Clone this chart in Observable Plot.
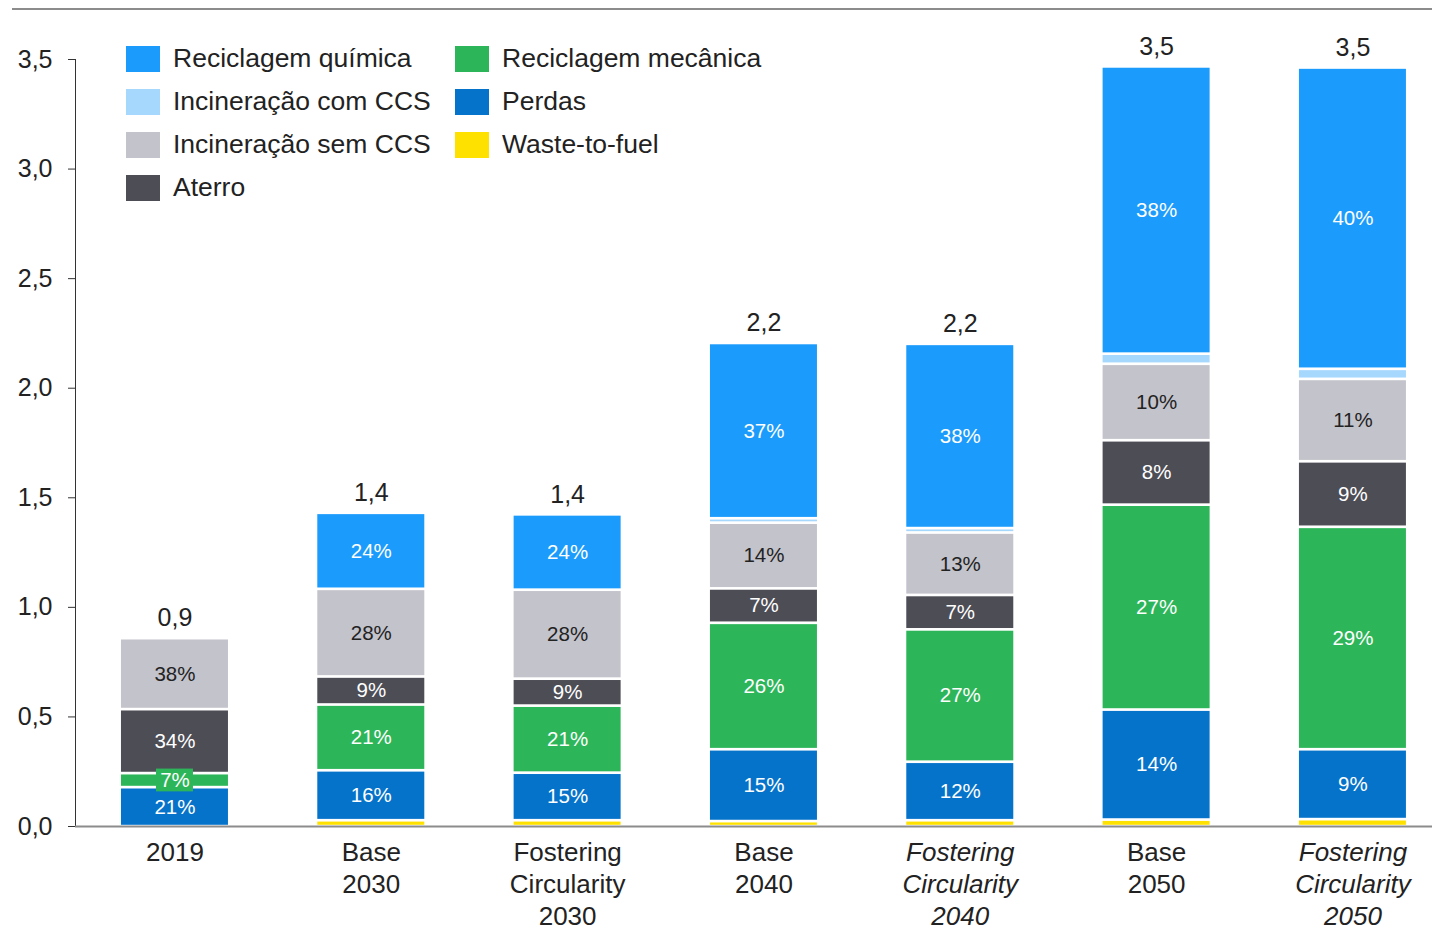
<!DOCTYPE html>
<html>
<head>
<meta charset="utf-8">
<script src="https://cdn.jsdelivr.net/npm/d3@7"></script>
<script src="https://cdn.jsdelivr.net/npm/@observablehq/plot@0.6"></script>
<style>
  html, body { margin: 0; padding: 0; background: #fff; overflow: hidden; }
  #wrap { position: relative; width: 1432px; height: 927px; font-family: "Liberation Sans", Arial, sans-serif; color: #222; }
  #topline { position: absolute; left: 12px; top: 8px; width: 1420px; height: 2px; background: #8c8c8c; }
  #legend { position: absolute; left: 126px; top: 37px; display: grid; grid-auto-flow: column;
            grid-template-rows: repeat(4, 43px); grid-template-columns: 329px auto; font-size: 26.5px; }
  .item { display: flex; align-items: center; }
  .sw { width: 34px; height: 26px; margin-right: 13px; flex: none; }
  #chart { position: absolute; left: 0; top: 0; }
</style>
</head>
<body>
<div id="wrap">
  <div id="chart"></div>
  <div id="topline"></div>
  <div id="legend"></div>
</div>
<script>
// ---- data ----
const categories = ["2019", "Base 2030", "Fostering Circularity 2030", "Base 2040",
  "Fostering Circularity 2040", "Base 2050", "Fostering Circularity 2050"];
const categoryLines = ["2019", "Base\n2030", "Fostering\nCircularity\n2030", "Base\n2040",
  "Fostering\nCircularity\n2040", "Base\n2050", "Fostering\nCircularity\n2050"];
const italicCategories = ["Fostering Circularity 2040", "Fostering Circularity 2050"];

const wasteToFuel = [0, 0.027, 0.027, 0.023, 0.027, 0.030, 0.032];
const perdas      = [0.178, 0.228, 0.217, 0.328, 0.267, 0.502, 0.319];
const mecanica    = [0.064, 0.300, 0.306, 0.577, 0.604, 0.935, 1.015];
const aterro      = [0.292, 0.128, 0.123, 0.157, 0.157, 0.294, 0.299];
const semCCS      = [0.324, 0.400, 0.406, 0.300, 0.285, 0.349, 0.376];
const comCCS      = [0, 0, 0, 0.020, 0.020, 0.046, 0.046];
const quimica     = [0, 0.347, 0.344, 0.800, 0.841, 1.311, 1.375];

const perdasPct   = ["21%", "16%", "15%", "15%", "12%", "14%", "9%"];
const mecanicaPct = ["7%", "21%", "21%", "26%", "27%", "27%", "29%"];
const aterroPct   = ["34%", "9%", "9%", "7%", "7%", "8%", "9%"];
const semCCSPct   = ["38%", "28%", "28%", "14%", "13%", "10%", "11%"];
const quimicaPct  = [null, "24%", "24%", "37%", "38%", "38%", "40%"];

const yTicks = [0, 0.5, 1, 1.5, 2, 2.5, 3, 3.5];

// stack order bottom -> top
const series = [
  {name: "Waste-to-fuel", values: wasteToFuel, labels: null, color: "#ffe100", text: "white"},
  {name: "Perdas", values: perdas, labels: perdasPct, color: "#0673ca", text: "white"},
  {name: "Reciclagem mecânica", values: mecanica, labels: mecanicaPct, color: "#2db659", text: "white"},
  {name: "Aterro", values: aterro, labels: aterroPct, color: "#4d4d56", text: "white"},
  {name: "Incineração sem CCS", values: semCCS, labels: semCCSPct, color: "#c3c3cb", text: "#222"},
  {name: "Incineração com CCS", values: comCCS, labels: null, color: "#a6d7fd", text: "white"},
  {name: "Reciclagem química", values: quimica, labels: quimicaPct, color: "#1b9bfc", text: "white"}
];
const legendOrder = ["Reciclagem química", "Incineração com CCS", "Incineração sem CCS", "Aterro",
  "Reciclagem mecânica", "Perdas", "Waste-to-fuel"];

// ---- build table ----
const rows = [];
const totals = [];
categories.forEach((c, i) => {
  let base = 0;
  series.forEach(s => {
    const v = s.values[i];
    if (v > 0) {
      rows.push({cat: c, series: s.name, y1: base, y2: base + v, mid: base + v / 2,
                 label: s.labels ? s.labels[i] : null, text: s.text, small: v < 0.1});
    }
    base += v;
  });
  totals.push({cat: c, total: base, text: base.toFixed(1).replace(".", ",")});
});
const labelled = rows.filter(r => r.label);
const fmt = d => d.toFixed(1).replace(".", ",");

const plot = Plot.plot({
  width: 1432,
  height: 927,
  marginLeft: 75,
  marginRight: 0,
  marginTop: 59,
  marginBottom: 101,
  style: {fontFamily: "Liberation Sans, Arial, sans-serif", color: "#222", background: "transparent"},
  x: {domain: categories, range: [76.3, 1450.6], paddingInner: 0.455, paddingOuter: 0.2275, round: false, axis: null},
  y: {domain: [0, 3.5], axis: null},
  color: {domain: series.map(s => s.name), range: series.map(s => s.color)},
  marks: [
    Plot.barY(rows, {x: "cat", y1: "y1", y2: "y2", fill: "series", insetTop: 1.5, insetBottom: 1.2}),
    Plot.barY(labelled.filter(r => r.small), {x: "cat", y1: r => r.mid - 0.052, y2: r => r.mid + 0.052,
      fill: "series", insetLeft: 35, insetRight: 35}),
    Plot.text(labelled.filter(r => r.text === "white"), {x: "cat", y: "mid", text: "label", fill: "white", fontSize: 20.5}),
    Plot.text(labelled.filter(r => r.text !== "white"), {x: "cat", y: "mid", text: "label", fill: "#222", fontSize: 20.5}),
    Plot.text(totals, {x: "cat", y: "total", text: "text", lineAnchor: "bottom", dy: -12, fontSize: 25, fill: "#222"}),
    Plot.text(categories.filter(c => !italicCategories.includes(c)), {x: d => d, text: d => categoryLines[categories.indexOf(d)],
      frameAnchor: "bottom", lineAnchor: "top", dy: 12, fontSize: 26, lineHeight: 1.23, fill: "#222"}),
    Plot.text(italicCategories, {x: d => d, text: d => categoryLines[categories.indexOf(d)],
      frameAnchor: "bottom", lineAnchor: "top", dy: 12, fontSize: 26, lineHeight: 1.23, fill: "#222", fontStyle: "italic"}),
    Plot.axisY({ticks: yTicks, tickFormat: fmt, tickSize: 7, tickPadding: 16, fontSize: 25, label: null, color: "#222", stroke: "#333"}),
    Plot.frame({anchor: "left", stroke: "#333"}),
    Plot.ruleY([0], {stroke: "#8c8c8c", strokeWidth: 2})
  ]
});
document.getElementById("chart").appendChild(plot);

// legend
const legend = document.getElementById("legend");
legendOrder.forEach(name => {
  const s = series.find(d => d.name === name);
  const item = document.createElement("div");
  item.className = "item";
  const sw = document.createElement("span");
  sw.className = "sw";
  sw.style.background = s.color;
  const t = document.createElement("span");
  t.textContent = name;
  item.appendChild(sw);
  item.appendChild(t);
  legend.appendChild(item);
});
</script>
</body>
</html>
